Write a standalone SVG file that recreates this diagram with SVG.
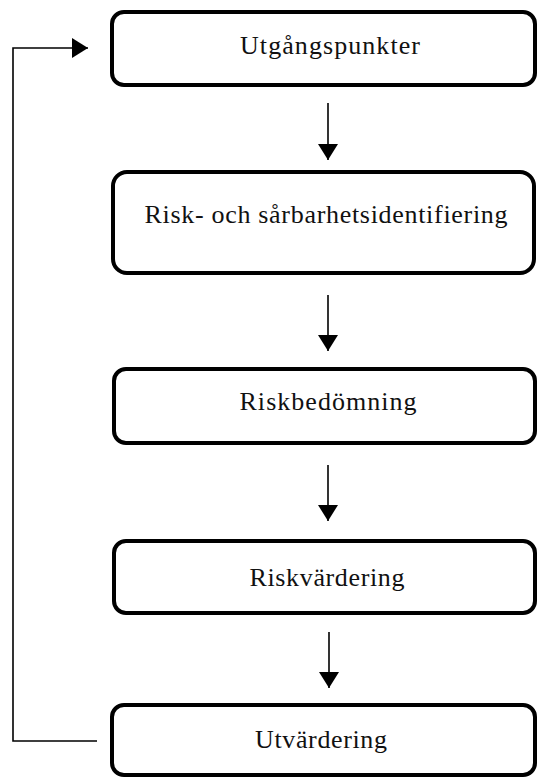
<svg xmlns="http://www.w3.org/2000/svg" width="537" height="778" viewBox="0 0 537 778">
<defs>
<style>
.box{fill:#fff;stroke:#000;stroke-width:4}
.lbl{font-family:"Liberation Serif","Times New Roman",serif;font-size:26px;fill:#111;text-anchor:middle}
.con{fill:none;stroke:#000;stroke-width:1.6}
</style>
<marker id="ah" viewBox="0 0 16 20" refX="16" refY="10" markerWidth="16" markerHeight="20" markerUnits="userSpaceOnUse" orient="auto">
<path d="M0,0 L16,10 L0,20 Z" fill="#000"/>
</marker>
</defs>
<rect width="537" height="778" fill="#fff"/>
<g id="connectors">
<line class="con" x1="328" y1="103" x2="328" y2="160" marker-end="url(#ah)"/>
<line class="con" x1="328" y1="295" x2="328" y2="351" marker-end="url(#ah)"/>
<line class="con" x1="328" y1="465" x2="328" y2="521" marker-end="url(#ah)"/>
<line class="con" x1="329" y1="632" x2="329" y2="688" marker-end="url(#ah)"/>
<polyline class="con" points="97,741 13,741 13,48 88,48" marker-end="url(#ah)"/>
</g>
<g id="node1">
<rect class="box" x="112" y="12" width="423" height="73" rx="12"/>
<text class="lbl" x="330" y="54" textLength="180" lengthAdjust="spacing">Utgångspunkter</text>
</g>
<g id="node2">
<rect class="box" x="113" y="172" width="421" height="101" rx="14"/>
<text class="lbl" x="326" y="223" textLength="363" lengthAdjust="spacing">Risk- och sårbarhetsidentifiering</text>
</g>
<g id="node3">
<rect class="box" x="114" y="369" width="421" height="74" rx="12"/>
<text class="lbl" x="328" y="410" textLength="177" lengthAdjust="spacing">Riskbedömning</text>
</g>
<g id="node4">
<rect class="box" x="114" y="541" width="421" height="72" rx="12"/>
<text class="lbl" x="327" y="586" textLength="155" lengthAdjust="spacing">Riskvärdering</text>
</g>
<g id="node5">
<rect class="box" x="112" y="705" width="423" height="70" rx="12"/>
<text class="lbl" x="321" y="748" textLength="132" lengthAdjust="spacing">Utvärdering</text>
</g>
</svg>
